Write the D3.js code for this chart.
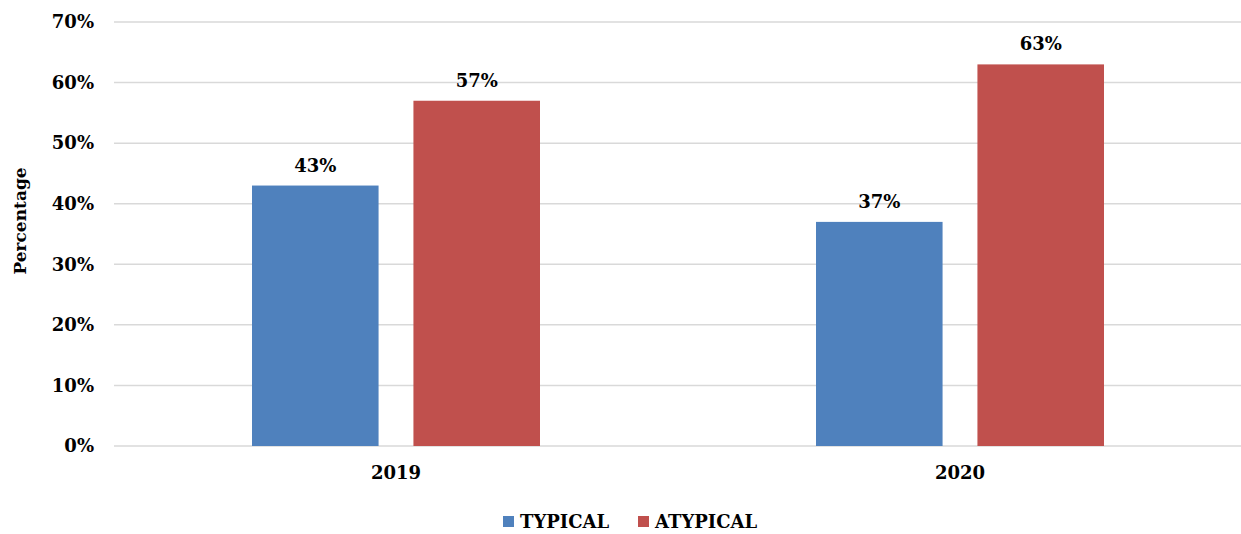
<!DOCTYPE html>
<html>
<head>
<meta charset="utf-8">
<script src="https://cdn.jsdelivr.net/npm/d3@7/dist/d3.min.js"></script>
<style>
  html, body { margin: 0; padding: 0; background: #fff; }
  svg { display: block; }
  svg text { font-family: "DejaVu Serif", "Liberation Serif", serif !important; font-weight: bold; fill: #000; }
</style>
</head>
<body>
<svg id="chart" width="1241" height="534"></svg>
<script>
// Share of cases by presentation type, per year
const years = ["2019", "2020"];
const seriesNames = ["TYPICAL", "ATYPICAL"];
const typical = [43, 37];
const atypical = [57, 63];
const yTicks = [0, 10, 20, 30, 40, 50, 60, 70];
const colors = ["#4f81bd", "#c0504d"];

const seriesValues = [typical, atypical];
const rows = years.map((yr, i) => ({
  year: yr,
  values: seriesNames.map((s, j) => ({ key: s, value: seriesValues[j][i] }))
}));

const svg = d3.select("#chart");
const plotLeft = 114, plotRight = 1242, plotTop = 22, plotBottom = 446;

const x0 = d3.scaleBand().domain(years).range([plotLeft, plotRight]).paddingInner(0).paddingOuter(0);
const y = d3.scaleLinear().domain([0, 70]).range([plotBottom, plotTop]);
const x1 = d3.scaleBand().domain(seriesNames).range([0, 288]).paddingInner(0.216);
const groupOffset = (x0.bandwidth() - 288) / 2;

// horizontal gridlines
svg.append("g")
  .selectAll("line")
  .data(yTicks)
  .join("line")
  .attr("x1", plotLeft).attr("x2", 1241)
  .attr("y1", d => y(d)).attr("y2", d => y(d))
  .attr("stroke", "#d9d9d9").attr("stroke-width", 1.5);

// y axis tick labels
const yAxis = d3.axisLeft(y).tickValues(yTicks).tickFormat(d => d + "%").tickSize(0).tickPadding(20);
const ya = svg.append("g").attr("transform", `translate(${plotLeft},0)`).call(yAxis)
  .attr("font-family", null).attr("font-size", null);
ya.select(".domain").remove();
ya.selectAll("text").style("font-size", "18px").attr("fill", "#000");

// x axis labels
const xAxis = d3.axisBottom(x0).tickSize(0).tickPadding(20);
const xa = svg.append("g").attr("transform", `translate(0,${plotBottom})`).call(xAxis)
  .attr("font-family", null).attr("font-size", null);
xa.select(".domain").remove();
xa.selectAll("text").style("font-size", "18px").attr("fill", "#000");

// bars
const groups = svg.append("g")
  .selectAll("g")
  .data(rows)
  .join("g")
  .attr("transform", d => `translate(${x0(d.year) + groupOffset},0)`);

groups.selectAll("rect")
  .data(d => d.values)
  .join("rect")
  .attr("x", d => x1(d.key))
  .attr("width", x1.bandwidth())
  .attr("y", d => y(d.value))
  .attr("height", d => y(0) - y(d.value))
  .attr("fill", (d, i) => colors[i]);

// value labels
groups.selectAll("text.val")
  .data(d => d.values)
  .join("text")
  .attr("class", "val")
  .attr("x", d => x1(d.key) + x1.bandwidth() / 2)
  .attr("y", d => y(d.value) - 14)
  .attr("text-anchor", "middle")
  .style("font-size", "18px")
  .text(d => d.value + "%");

// y axis title
svg.append("text")
  .attr("transform", "translate(26,221) rotate(-90)")
  .attr("text-anchor", "middle")
  .style("font-size", "17px")
  .text("Percentage");

// legend
const legendItems = [
  { name: seriesNames[0], x: 503 },
  { name: seriesNames[1], x: 638 }
];
const lg = svg.append("g").selectAll("g").data(legendItems).join("g")
  .attr("transform", d => `translate(${d.x},516)`);
lg.append("rect").attr("width", 11).attr("height", 11).attr("fill", (d, i) => colors[i]);
lg.append("text").attr("x", 17).attr("y", 12).style("font-size", "18px").text(d => d.name);
</script>
</body>
</html>
